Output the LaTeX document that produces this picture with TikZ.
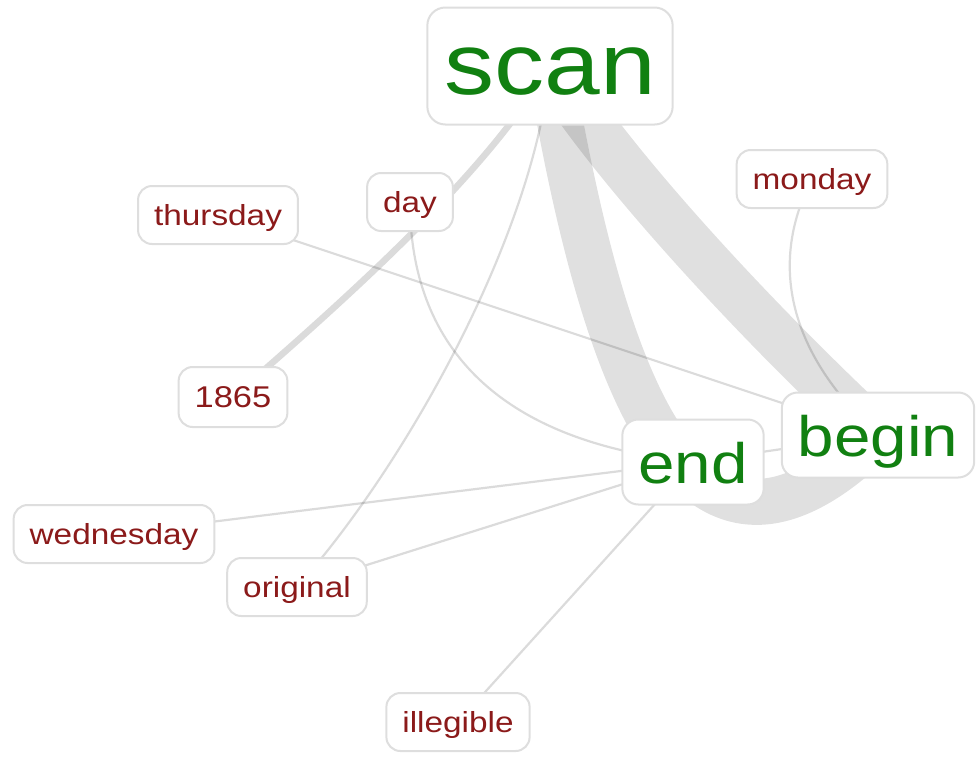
\documentclass[tikz,border=0pt]{standalone}
\usepackage{fontspec}
\setmainfont[FakeStretch=1.15]{Liberation Sans}
\usetikzlibrary{backgrounds}

\definecolor{palabra}{RGB}{139,26,26}
\definecolor{clave}{RGB}{17,128,17}

\begin{document}
\begin{tikzpicture}[
    x=1pt, y=-1pt,
    word/.style={
        draw=black!13,
        line width=2pt,
        rounded corners=14pt,
        fill=white,
        text=palabra,
        font=\fontsize{29}{35}\selectfont,
        text height=26pt,
        text depth=6pt,
        inner xsep=16pt,
        inner ysep=4pt,
        minimum height=58pt
    },
    hub/.style={
        word,
        rounded corners=16pt,
        text=clave,
        font=\fontsize{57}{68}\selectfont,
        text height=56pt,
        text depth=14pt,
        minimum height=85pt
    },
    edge/.style={draw=black, draw opacity=0.14, line width=2.2pt},
    band/.style={draw=black, draw opacity=0.12}
]
\useasboundingbox (0,0) rectangle (980,756);

% --- Nodos ---
\node[hub, rounded corners=18pt, font=\fontsize{87}{104}\selectfont,
      text height=75pt, text depth=19pt, minimum height=117pt,
      inner xsep=17pt] (scan) at (550,66) {scan};
\node[hub] (begin) at (878,435) {begin};
\node[hub] (end) at (693,462) {end};

\node[word] (day) at (410,202) {day};
\node[word] (thursday) at (218,215) {thursday};
\node[word] (monday) at (812,179) {monday};
\node[word, minimum height=60pt, font=\fontsize{30}{36}\selectfont] (n1865) at (233,397) {1865};
\node[word] (wednesday) at (114,534) {wednesday};
\node[word] (original) at (297,587) {original};
\node[word] (illegible) at (458,722) {illegible};

% --- Aristas ---
\begin{scope}[on background layer]
    \draw[band, line width=46pt] (scan.center) .. controls (610,420) and (700,612) .. (begin.center);
    \draw[band, line width=48pt] (scan.center) .. controls (615,170) and (760,325) .. (begin.center);
    \draw[edge, line width=6.5pt] (scan.center) .. controls (490,165) and (380,270) .. (n1865.center);
    \draw[edge] (scan.center) .. controls (535,230) and (410,460) .. (original.center);
    \draw[edge] (day.center) .. controls (410,330) and (480,440) .. (end.center);
    \draw[edge] (monday.center) .. controls (770,260) and (785,350) .. (begin.center);
    \draw[edge] (thursday.center) -- (begin.center);
    \draw[edge] (end.center) -- (begin.center);
    \draw[edge] (end.center) -- (wednesday.center);
    \draw[edge] (end.center) -- (original.center);
    \draw[edge] (end.center) -- (illegible.center);
\end{scope}

\end{tikzpicture}
\end{document}
